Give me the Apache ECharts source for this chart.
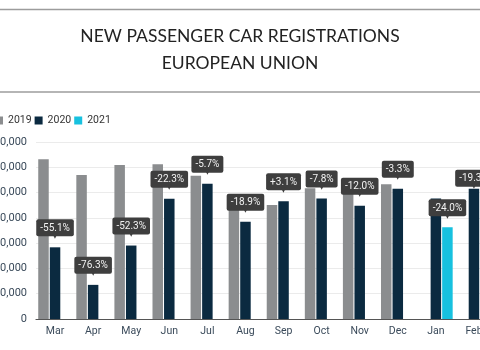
<!DOCTYPE html>
<html>
<head>
<meta charset="utf-8">
<script src="https://cdn.jsdelivr.net/npm/echarts@6/dist/echarts.min.js"></script>
<style>
  html, body { margin: 0; padding: 0; background: #fff; }
  #chart { width: 480px; height: 350px; }
</style>
</head>
<body>
<div id="chart"></div>
<script>
// months shown on the x axis
var months = ["Mar", "Apr", "May", "Jun", "Jul", "Aug", "Sep", "Oct", "Nov", "Dec", "Jan", "Feb"];
var years = ["2019", "2020", "2021"];

// registrations per month
var reg2019 = [1263000, 1139000, 1218000, 1224000, 1134000, 950000, 902000, 1034000, 1018000, 1065000, null, null];
var reg2020 = [567000, 270000, 581000, 951000, 1070000, 770000, 931000, 953000, 896000, 1030000, 954000, 1030000];
var reg2021 = [null, null, null, null, null, null, null, null, null, null, 725000, 830000];

// change vs. previous year (callouts)
var change2020 = ["-55.1%", "-76.3%", "-52.3%", "-22.3%", "-5.7%", "-18.9%", "+3.1%", "-7.8%", "-12.0%", "-3.3%", "", "-19.3%"];
var change2021 = ["", "", "", "", "", "", "", "", "", "", "-24.0%", ""];

var yTicks = { min: 0, max: 1400000, step: 200000 };

window.onload = function () {
  var myChart = echarts.init(document.getElementById("chart"));

  var calloutLabel = function (texts) {
    return {
      show: true,
      position: "top",
      distance: 9,
      formatter: function (p) {
        var t = texts[p.dataIndex];
        if (!t) return "";
        return "{box|" + t + "}\n{arrow|▼}";
      },
      rich: {
        box: {
          backgroundColor: "#3e3e3e",
          color: "#f2f2f2",
          fontFamily: "Roboto",
          fontSize: 10,
          lineHeight: 11,
          padding: [4, 4, 3, 4],
          borderRadius: 2,
        },
        arrow: {
          color: "#3e3e3e",
          fontSize: 7,
          lineHeight: 5,
          fontFamily: "DejaVu Sans",
        },
      },
    };
  };

  var data2020 = reg2020.map(function (v, i) {
    // Feb callout sits lower, right on the bar
    if (i === 11) return { value: v, label: { offset: [0, 9] } };
    return v;
  });

  var option = {
    animation: false,
    title: {
      text: "NEW PASSENGER CAR REGISTRATIONS\nEUROPEAN UNION",
      left: "center",
      top: 18,
      textStyle: {
        fontFamily: "Lato",
        fontSize: 17.5,
        fontWeight: "normal",
        color: "#222",
        lineHeight: 27,
      },
    },
    graphic: [
      { type: "line", shape: { x1: 0, y1: 9.5, x2: 480, y2: 9.5 }, style: { stroke: "#9c9c9c", lineWidth: 1.5 } },
      { type: "line", shape: { x1: 0, y1: 92, x2: 480, y2: 92 }, style: { stroke: "#9c9c9c", lineWidth: 1.5 } },
    ],
    legend: {
      data: years,
      left: -10,
      top: 110,
      itemWidth: 8,
      itemHeight: 8,
      itemGap: 3,
      icon: "rect",
      textStyle: { fontFamily: "Roboto", fontSize: 10.5, color: "#333" },
    },
    grid: {
      left: 36,
      right: -13,
      top: 142,
      bottom: 31,
      containLabel: false,
      outerBoundsMode: "none",
    },
    xAxis: {
      type: "category",
      data: months,
      axisLine: { lineStyle: { color: "#555", width: 1.2 } },
      axisTick: { show: false },
      axisLabel: { fontFamily: "Roboto", fontSize: 10.5, color: "#3a4a5a", margin: 7 },
    },
    yAxis: {
      type: "value",
      min: yTicks.min,
      max: yTicks.max,
      interval: yTicks.step,
      axisLine: { show: false },
      axisTick: { show: false },
      splitLine: { lineStyle: { color: "#ebebeb" } },
      axisLabel: {
        fontFamily: "Roboto",
        fontSize: 11,
        color: "#3a4a5a",
        margin: 9,
        formatter: function (v) {
          return v.toLocaleString("en-US");
        },
      },
    },
    series: [
      {
        name: "2019",
        type: "bar",
        data: reg2019,
        barWidth: 10.5,
        barGap: "10%",
        itemStyle: { color: "#8b8d8f" },
      },
      {
        name: "2020",
        type: "bar",
        data: data2020,
        barWidth: 10.5,
        barGap: "10%",
        itemStyle: { color: "#0b2a40" },
        label: calloutLabel(change2020),
        z: 3,
      },
      {
        name: "2021",
        type: "bar",
        data: reg2021,
        barWidth: 10.5,
        barGap: "10%",
        itemStyle: { color: "#17c1df" },
        label: calloutLabel(change2021),
        z: 3,
      },
    ],
  };
  myChart.setOption(option);
};
</script>
</body>
</html>
